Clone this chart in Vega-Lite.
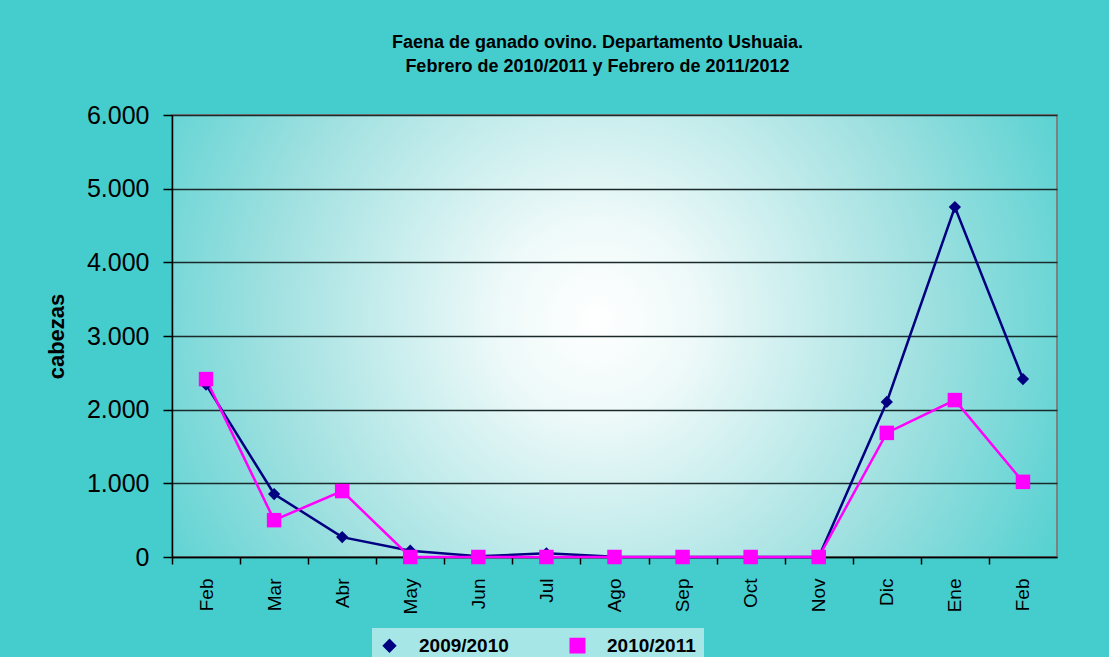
{
  "$schema": "https://vega.github.io/schema/vega-lite/v6.json",
  "width": 885,
  "height": 442,
  "autosize": {"type": "none"},
  "padding": {"left": 172, "top": 115, "right": 52, "bottom": 100},
  "background": "#45cdcd",
  "title": {
    "text": ["Faena de ganado ovino. Departamento Ushuaia.", "Febrero de 2010/2011 y Febrero de 2011/2012"],
    "font": "Liberation Sans",
    "fontSize": 18,
    "fontWeight": "bold",
    "color": "#000000",
    "anchor": "middle",
    "dx": -17,
    "offset": 27,
    "lineHeight": 24
  },
  "data": {
    "values": [
      {"mes": "Feb 2011", "serie": "2009/2010", "valor": 2340},
      {"mes": "Mar 2011", "serie": "2009/2010", "valor": 855},
      {"mes": "Abr 2011", "serie": "2009/2010", "valor": 270},
      {"mes": "May 2011", "serie": "2009/2010", "valor": 85},
      {"mes": "Jun 2011", "serie": "2009/2010", "valor": 10},
      {"mes": "Jul 2011", "serie": "2009/2010", "valor": 50},
      {"mes": "Ago 2011", "serie": "2009/2010", "valor": 5},
      {"mes": "Sep 2011", "serie": "2009/2010", "valor": 0},
      {"mes": "Oct 2011", "serie": "2009/2010", "valor": 0},
      {"mes": "Nov 2011", "serie": "2009/2010", "valor": 0},
      {"mes": "Dic 2011", "serie": "2009/2010", "valor": 2105},
      {"mes": "Ene 2012", "serie": "2009/2010", "valor": 4750},
      {"mes": "Feb 2012", "serie": "2009/2010", "valor": 2415},
      {"mes": "Feb 2011", "serie": "2010/2011", "valor": 2415},
      {"mes": "Mar 2011", "serie": "2010/2011", "valor": 500},
      {"mes": "Abr 2011", "serie": "2010/2011", "valor": 895},
      {"mes": "May 2011", "serie": "2010/2011", "valor": 0},
      {"mes": "Jun 2011", "serie": "2010/2011", "valor": 0},
      {"mes": "Jul 2011", "serie": "2010/2011", "valor": 0},
      {"mes": "Ago 2011", "serie": "2010/2011", "valor": 0},
      {"mes": "Sep 2011", "serie": "2010/2011", "valor": 0},
      {"mes": "Oct 2011", "serie": "2010/2011", "valor": 0},
      {"mes": "Nov 2011", "serie": "2010/2011", "valor": 0},
      {"mes": "Dic 2011", "serie": "2010/2011", "valor": 1685},
      {"mes": "Ene 2012", "serie": "2010/2011", "valor": 2130},
      {"mes": "Feb 2012", "serie": "2010/2011", "valor": 1020}
    ]
  },
  "encoding": {
    "x": {
      "field": "mes",
      "type": "ordinal",
      "scale": {
        "type": "point",
        "padding": 0.5,
        "domain": ["Feb 2011", "Mar 2011", "Abr 2011", "May 2011", "Jun 2011", "Jul 2011", "Ago 2011", "Sep 2011", "Oct 2011", "Nov 2011", "Dic 2011", "Ene 2012", "Feb 2012"]
      },
      "axis": {
        "title": null,
        "labelExpr": "slice(datum.value, 0, 3)",
        "labelAngle": -90,
        "labelFont": "Liberation Sans",
        "labelFontSize": 19,
        "labelColor": "#000000",
        "labelPadding": 14,
        "ticks": true,
        "tickSize": 7,
        "tickColor": "#000000",
        "tickWidth": 1.5,
        "tickOffset": -34.04,
        "labelOffset": 34.04,
        "domainColor": "#000000",
        "domainWidth": 1.5,
        "grid": false
      }
    },
    "y": {
      "field": "valor",
      "type": "quantitative",
      "scale": {"domain": [0, 6000], "nice": false},
      "axis": {
        "title": "cabezas",
        "titleFont": "Liberation Sans",
        "titleFontSize": 22,
        "titleFontWeight": "bold",
        "titleColor": "#000000",
        "titlePadding": 18,
        "tickCount": 6,
        "labelExpr": "datum.value == 0 ? '0' : (datum.value / 1000) + '.000'",
        "labelFont": "Liberation Sans",
        "labelFontSize": 25,
        "labelColor": "#000000",
        "labelPadding": 14,
        "tickSize": 9,
        "tickColor": "#000000",
        "tickWidth": 1.5,
        "domainColor": "#000000",
        "domainWidth": 1.5,
        "grid": true,
        "gridColor": "#1a2a2a",
        "gridWidth": 1.5
      }
    },
    "color": {
      "field": "serie",
      "type": "nominal",
      "scale": {"domain": ["2009/2010", "2010/2011"], "range": ["#000080", "#ff00ff"]},
      "legend": {
        "title": null,
        "orient": "none",
        "direction": "horizontal",
        "legendX": 200,
        "legendY": 513,
        "labelFont": "Liberation Sans",
        "labelFontSize": 19,
        "labelFontWeight": "bold",
        "labelColor": "#000000",
        "labelOffset": 20,
        "symbolSize": 170,
        "columnPadding": 58,
        "fillColor": "#a6e6e6",
        "padding": 8
      }
    }
  },
  "layer": [
    {
      "mark": {"type": "line", "strokeWidth": 2.5}
    },
    {
      "mark": {"type": "point", "filled": true, "opacity": 1},
      "encoding": {
        "shape": {
          "field": "serie",
          "type": "nominal",
          "scale": {"domain": ["2009/2010", "2010/2011"], "range": ["diamond", "square"]}
        },
        "size": {
          "field": "serie",
          "type": "nominal",
          "scale": {"domain": ["2009/2010", "2010/2011"], "range": [150, 210]},
          "legend": null
        }
      }
    }
  ],
  "config": {
    "view": {
      "stroke": "#808080",
      "strokeWidth": 2,
      "fill": {
        "gradient": "radial",
        "x1": 0.48, "y1": 0.48, "r1": 0,
        "x2": 0.48, "y2": 0.48, "r2": 0.75,
        "stops": [
          {"offset": 0, "color": "#ffffff"},
          {"offset": 0.15, "color": "#eef9f9"},
          {"offset": 0.5, "color": "#9fe0e0"},
          {"offset": 0.85, "color": "#42cdcd"},
          {"offset": 1, "color": "#3acccc"}
        ]
      }
    }
  }
}
